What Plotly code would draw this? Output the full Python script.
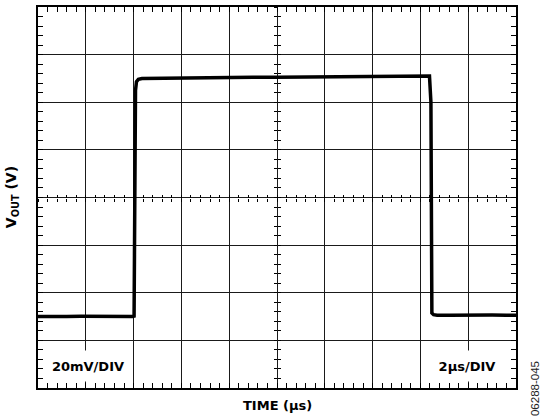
import plotly.graph_objects as go

# ---- data (time in µs, output in mV relative to bottom of screen) ----
time_us = [0.0, 0.6, 1.2, 1.8, 2.4, 3.0, 3.6, 3.95, 4.02, 4.04, 4.06, 4.08, 4.12, 4.2, 4.35,
           5.0, 6.0, 7.0, 8.0, 9.0, 10.0, 11.0, 12.0, 13.0, 14.0, 15.0, 16.0, 16.38,
           16.44, 16.46, 16.48, 16.55, 16.7, 17.2, 17.8, 18.4, 19.0, 19.6, 20.0]
vout_mv = [30.0, 29.9, 30.0, 30.1, 30.0, 30.1, 30.0, 30.0, 30.2, 60.0, 100.0, 125.0, 128.6, 129.6, 130.0,
           130.1, 130.2, 130.2, 130.4, 130.5, 130.5, 130.6, 130.7, 130.8, 130.9, 130.9, 131.0, 131.0,
           120.0, 60.0, 31.5, 30.8, 30.6, 30.6, 30.7, 30.6, 30.7, 30.6, 30.6]

x_range = [0, 20]      # 2 µs/DIV, 10 divisions
y_range = [0, 160]     # 20 mV/DIV, 8 divisions
x_div, y_div = 2, 20
x_minor, y_minor = 0.4, 4

FONT = "DejaVu Sans, Verdana, sans-serif"

fig = go.Figure()
fig.add_trace(go.Scatter(x=time_us, y=vout_mv, mode="lines",
                         line=dict(color="black", width=3.5), hoverinfo="skip"))

common = dict(showticklabels=False, ticks="inside", ticklen=5, tickwidth=1, tickcolor="black",
              automargin=False)
fig.update_layout(
    width=542, height=416,
    margin=dict(l=38, r=26, t=7, b=28, autoexpand=False),
    paper_bgcolor="white", plot_bgcolor="white",
    showlegend=False, hovermode=False,
    xaxis=dict(range=x_range, dtick=x_div, tick0=0, showgrid=True, gridcolor="#1a1a1a", gridwidth=1,
               zeroline=False, showline=True, linecolor="black", linewidth=2, mirror="ticks",
               minor=dict(dtick=x_minor, ticks="inside", ticklen=5, tickcolor="black", showgrid=False),
               **common),
    yaxis=dict(range=y_range, dtick=y_div, tick0=0, showgrid=True, gridcolor="#1a1a1a", gridwidth=1,
               zeroline=False, showline=True, linecolor="black", linewidth=2, mirror="ticks",
               minor=dict(dtick=y_minor, ticks="inside", ticklen=5, tickcolor="black", showgrid=False),
               **common),
    # centre cross-hair tick marks
    xaxis3=dict(range=x_range, overlaying="x", anchor="free", position=0.5, side="bottom",
                dtick=x_div, showgrid=False, zeroline=False, showline=False, showticklabels=False,
                ticks="inside", ticklen=3, tickcolor="black", automargin=False,
                minor=dict(dtick=x_minor, ticks="inside", ticklen=3, tickcolor="black")),
    xaxis4=dict(range=x_range, overlaying="x", anchor="free", position=0.5, side="bottom",
                dtick=x_div, showgrid=False, zeroline=False, showline=False, showticklabels=False,
                ticks="outside", ticklen=3, tickcolor="black", automargin=False,
                minor=dict(dtick=x_minor, ticks="outside", ticklen=3, tickcolor="black")),
    yaxis3=dict(range=y_range, overlaying="y", anchor="free", position=0.5, side="left",
                dtick=y_div, showgrid=False, zeroline=False, showline=False, showticklabels=False,
                ticks="inside", ticklen=3, tickcolor="black", automargin=False,
                minor=dict(dtick=y_minor, ticks="inside", ticklen=3, tickcolor="black")),
    yaxis4=dict(range=y_range, overlaying="y", anchor="free", position=0.5, side="left",
                dtick=y_div, showgrid=False, zeroline=False, showline=False, showticklabels=False,
                ticks="outside", ticklen=3, tickcolor="black", automargin=False,
                minor=dict(dtick=y_minor, ticks="outside", ticklen=3, tickcolor="black")),
)
# invisible traces so the overlay axes render
for xa, ya in (("x3", "y3"), ("x4", "y4")):
    fig.add_trace(go.Scatter(x=[x_range[0]], y=[y_range[0]], xaxis=xa, yaxis=ya,
                             mode="markers", marker=dict(opacity=0), hoverinfo="skip"))

# scale labels, on white boxes that blank the grid (kept clear of the edge ticks)
fig.add_annotation(text="<b>20mV/DIV</b>", xref="x domain", yref="y domain", x=0.013, y=0.016,
                   xanchor="left", yanchor="bottom", showarrow=False, bgcolor="white",
                   width=84, height=28, align="center", valign="middle",
                   font=dict(family=FONT, size=13, color="black"))
fig.add_annotation(text="<b>2µs/DIV</b>", xref="x domain", yref="y domain", x=0.987, y=0.016,
                   xanchor="right", yanchor="bottom", showarrow=False, bgcolor="white",
                   width=82, height=28, align="center", valign="middle",
                   font=dict(family=FONT, size=13, color="black"))
fig.add_annotation(text="<b>TIME (µs)</b>", xref="paper", yref="paper", x=0.5, y=-0.045,
                   xanchor="center", yanchor="middle", showarrow=False,
                   font=dict(family=FONT, size=13, color="black"))
fig.add_annotation(text="<b>V<sub>OUT</sub> (V)</b>",
                   xref="paper", yref="paper", x=-0.055, y=0.5,
                   xanchor="center", yanchor="middle", textangle=-90, showarrow=False,
                   font=dict(family=FONT, size=14, color="black"))
fig.add_annotation(text="06288-045", xref="paper", yref="paper", x=1.04, y=0.075,
                   xanchor="center", yanchor="top", textangle=-90, showarrow=False,
                   font=dict(family="Liberation Sans, Arial, sans-serif", size=11.5, color="#222"))

fig.write_html("out.html", config={"displayModeBar": False, "staticPlot": True},
               post_script="document.body.style.margin='0px';")
